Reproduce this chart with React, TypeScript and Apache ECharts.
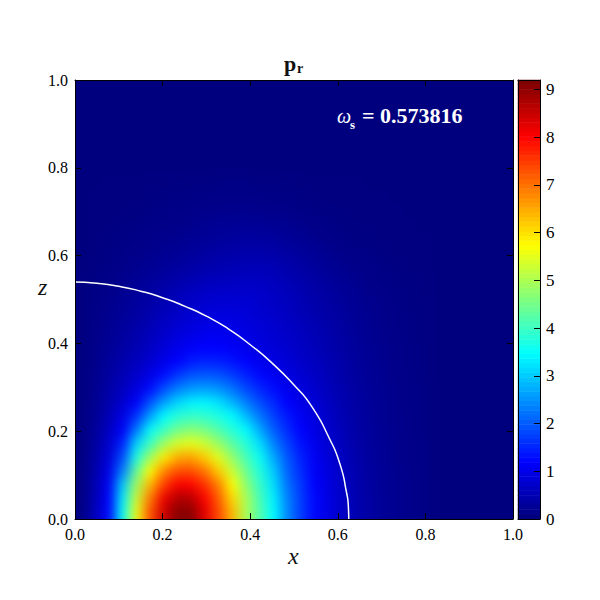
import React, { useEffect, useRef } from "react";
import * as echarts from "echarts";

const FONT = '"Liberation Serif", serif';
const CELLS = 32;
const MIRRORED_ROWS = 3;
const cellLabels = Array.from({ length: CELLS }, (_, i) => String(i));
const rowLabels = Array.from({ length: CELLS + MIRRORED_ROWS }, (_, i) => String(i));

// p_r: one row per z cell (bottom to top), one value per x cell (left to right).
const heatRows: number[][] = [
  [.04,.55,1.2,3.5,5.6,7.3,8.5,9.1,9.1,8.3,7.4,6.4,5.0,4.2,3.45,2.4,1.7,1.2,.9,.65,.45,.32,.22,.15,.1,.07],
  [.04,.5,1.15,3.3,5.3,6.95,8.2,8.75,8.7,8.05,7.2,6.1,5.0,4.1,3.35,2.35,1.7,1.2,.9,.65,.45,.32,.22,.15,.1,.07],
  [.04,.45,1.05,3.0,4.9,6.4,7.5,8.1,8.05,7.6,6.9,5.75,4.75,3.95,3.2,2.2,1.65,1.15,.88,.65,.45,.31,.21,.15,.1,.07],
  [.03,.4,.95,2.3,4.35,5.75,6.85,7.35,7.35,7.0,6.2,5.3,4.45,3.75,3.0,2.05,1.55,1.1,.85,.62,.43,.3,.21,.14,.1,.06],
  [.03,.35,.8,1.85,3.7,4.9,5.9,6.5,6.6,6.2,5.5,4.8,4.1,3.55,2.7,1.95,1.45,1.05,.8,.58,.41,.28,.2,.13,.09,.06],
  [.02,.3,.7,1.45,3.1,4.0,4.9,5.4,5.55,5.3,4.85,4.3,3.8,3.2,2.35,1.75,1.3,1.0,.75,.55,.39,.27,.19,.13,.09,.06],
  [.02,.25,.6,1.1,2.25,3.5,4.0,4.5,4.7,4.55,4.2,3.8,3.45,2.7,2.0,1.55,1.15,.92,.7,.52,.37,.26,.18,.12,.08,.05],
  [.02,.2,.5,.9,1.6,2.6,3.45,3.8,3.95,3.9,3.7,3.45,2.85,2.25,1.75,1.35,1.05,.85,.65,.48,.35,.25,.17,.12,.08,.05],
  [.02,.18,.42,.72,1.1,1.9,2.6,3.1,3.35,3.4,3.2,2.8,2.3,1.85,1.5,1.15,.95,.78,.6,.45,.33,.24,.17,.11,.07,.05],
  [.02,.15,.36,.58,.85,1.25,1.85,2.3,2.55,2.6,2.5,2.2,1.8,1.5,1.25,1.0,.85,.7,.55,.42,.31,.22,.16,.11,.07,.05],
  [.02,.13,.3,.48,.68,.92,1.25,1.65,1.9,1.95,1.9,1.7,1.45,1.2,1.05,.88,.75,.64,.5,.39,.29,.21,.15,.1,.07,.04],
  [.02,.12,.26,.4,.56,.74,.95,1.15,1.38,1.45,1.42,1.3,1.15,1.0,.9,.78,.68,.58,.47,.37,.27,.2,.14,.1,.06,.04],
  [.02,.11,.22,.33,.47,.63,.8,.97,1.1,1.15,1.15,1.08,.98,.88,.8,.72,.62,.53,.43,.34,.25,.18,.13,.09,.06,.04],
  [.01,.09,.18,.28,.4,.53,.68,.82,.92,1.0,1.02,.98,.9,.82,.75,.66,.58,.49,.4,.31,.23,.17,.12,.08,.05,.03],
  [.01,.08,.15,.24,.34,.45,.58,.7,.8,.86,.9,.88,.83,.76,.7,.62,.53,.45,.37,.29,.21,.15,.11,.07,.05,.03],
  [.01,.07,.13,.2,.29,.38,.49,.6,.69,.75,.79,.8,.77,.71,.65,.58,.49,.41,.33,.26,.19,.14,.1,.07,.04,.03],
  [.01,.06,.11,.17,.24,.32,.41,.5,.59,.65,.68,.7,.7,.68,.62,.55,.46,.38,.3,.23,.17,.12,.09,.06,.04,.02],
  [.01,.05,.08,.13,.18,.24,.3,.38,.45,.51,.54,.57,.59,.58,.55,.48,.4,.32,.25,.18,.14,.09,.06,.05,.03,.02],
  [.01,.03,.06,.09,.14,.18,.23,.28,.34,.39,.43,.47,.48,.49,.47,.4,.32,.26,.2,.14,.1,.07,.05,.03,.02,.01],
  [0,.02,.05,.07,.1,.13,.16,.2,.25,.3,.34,.37,.39,.39,.37,.31,.25,.2,.14,.1,.07,.05,.03,.02,.02,.01],
  [0,.01,.04,.05,.07,.09,.12,.14,.18,.22,.25,.27,.29,.29,.27,.22,.18,.13,.09,.06,.04,.03,.02,.01,.01,.01],
  [0,.01,.02,.04,.05,.07,.08,.1,.13,.16,.19,.2,.21,.2,.18,.15,.12,.08,.06,.04,.03,.02,.01,.01,.01,0],
  [0,.01,.01,.02,.03,.05,.06,.07,.09,.11,.12,.13,.13,.12,.11,.09,.07,.05,.03,.03,.01,.01,.01,.01,0,0],
  [0,.01,.01,.01,.02,.03,.04,.05,.05,.07,.07,.08,.08,.07,.06,.05,.04,.02,.02,.01,.01,.01,.01,0,0,0],
  [0,0,.01,.01,.01,.02,.02,.03,.04,.04,.05,.05,.05,.04,.04,.03,.02,.01,.01,.01,.01,0,0,0,0,0],
];

// White boundary curve, [x, z].
const boundary: [number, number][] = [
  [0,.54],[.05,.537],[.1,.53],[.15,.519],[.2,.504],[.25,.485],[.3,.462],[.35,.433],[.4,.397],[.45,.355],
  [.5,.305],[.54,.257],[.58,.185],[.605,.125],[.62,.06],[.624,.03],[.625,0],
];

// Colour-bar levels.
const barLevels = [
  0,.1,.2,.3,.4,.5,.6,.7,.8,.9,1,1.1,1.2,1.3,1.4,1.5,1.6,1.7,1.8,1.9,2,2.1,2.2,2.3,2.4,2.5,2.6,2.7,2.8,2.9,3,
  3.1,3.2,3.3,3.4,3.5,3.6,3.7,3.8,3.9,4,4.1,4.2,4.3,4.4,4.5,4.6,4.7,4.8,4.9,5,5.1,5.2,5.3,5.4,5.5,5.6,5.7,5.8,5.9,6,
  6.1,6.2,6.3,6.4,6.5,6.6,6.7,6.8,6.9,7,7.1,7.2,7.3,7.4,7.5,7.6,7.7,7.8,7.9,8,8.1,8.2,8.3,8.4,8.5,8.6,8.7,8.8,8.9,9,9.1,9.2,
];

const jet = ["#00007f","#0000ff","#007fff","#00ffff","#7fff7f","#ffff00","#ff7f00","#ff0000","#7f0000"];
const VMAX = 9.2;

const hidden = { show: false };
const ink = { lineStyle: { color: "#000", width: 1 } };

function frameAxis(gridIndex: number, position: string, extra: any = {}) {
  return {
    type: "value", gridIndex, position, min: 0, max: 1, interval: 0.2, z: 5,
    axisLine: { show: true, onZero: false, ...ink },
    axisTick: { show: true, inside: true, length: 6, ...ink },
    axisLabel: { show: false },
    splitLine: hidden,
    ...extra,
  };
}

const tickLabel = {
  show: true, color: "#000", fontFamily: FONT, fontSize: 16, margin: 7,
  formatter: (v: number) => v.toFixed(1),
};

export default function App() {
  const heatRef = useRef<HTMLDivElement>(null);
  const mainRef = useRef<HTMLDivElement>(null);
  useEffect(() => {
    // Field layer: the reference is a smooth image, so this layer is softened by a CSS blur.
    // The rows below z = 0 repeat the first rows so the blur does not darken the lower edge.
    const heatChart = echarts.init(heatRef.current!, null, { renderer: "svg" });
    const heat: number[][] = [];
    heatRows.forEach((row, j) => row.forEach((v, i) => heat.push([i, j + MIRRORED_ROWS, v])));
    heatRows.slice(0, MIRRORED_ROWS).forEach((row, j) =>
      row.forEach((v, i) => heat.push([i, MIRRORED_ROWS - 1 - j, v])));
    heatChart.setOption({
      animation: false,
      backgroundColor: "#00007f",
      grid: { left: 40, top: 40, width: 438, height: (439 * (CELLS + MIRRORED_ROWS)) / CELLS, show: false },
      visualMap: { show: false, min: 0, max: VMAX, dimension: 2, inRange: { color: jet } },
      xAxis: { type: "category", data: cellLabels, show: false },
      yAxis: { type: "category", data: rowLabels, show: false },
      series: [{ type: "heatmap", data: heat, progressive: 0, emphasis: { disabled: true } }],
    });

    const chart = echarts.init(mainRef.current!, null, { renderer: "svg" });
    chart.setOption({
      animation: false,
      backgroundColor: "transparent",
      grid: [
        { left: 75, top: 80, width: 438, height: 439, show: false },
        { left: 518, top: 80, width: 22, height: 439, show: false },
      ],
      visualMap: { show: false, min: 0, max: VMAX, dimension: 2, seriesIndex: [0], inRange: { color: jet } },
      xAxis: [
        frameAxis(0, "bottom", { axisLabel: tickLabel }),
        frameAxis(0, "top"),
        { type: "category", gridIndex: 1, data: ["bar"], show: false },
        frameAxis(1, "bottom", { axisTick: { show: false } }),
        frameAxis(1, "top", { axisTick: { show: false } }),
      ],
      yAxis: [
        frameAxis(0, "left", { axisLabel: tickLabel }),
        frameAxis(0, "right"),
        { type: "category", gridIndex: 1, data: barLevels.map(String), show: false },
        frameAxis(1, "right", {
          max: VMAX, interval: 1,
          axisLabel: { show: true, color: "#000", fontFamily: FONT, fontSize: 17, margin: 6, showMaxLabel: false },
        }),
        frameAxis(1, "left", { axisTick: { show: false } }),
      ],
      series: [
        { type: "heatmap", xAxisIndex: 2, yAxisIndex: 2, data: barLevels.map((v, j) => [0, j, v]), progressive: 0, emphasis: { disabled: true } },
        {
          type: "line", xAxisIndex: 0, yAxisIndex: 0, data: boundary, symbol: "none", smooth: 0.6, z: 4,
          lineStyle: { color: "#fff", width: 1.5 }, silent: true,
        },
      ],
      graphic: [
        { type: "text", x: 284, y: 52, z: 10, style: { text: "p", font: `bold 22px ${FONT}`, fill: "#111" } },
        { type: "text", x: 297, y: 61, z: 10, style: { text: "r", font: `bold 14px ${FONT}`, fill: "#111" } },
        { type: "text", x: 337, y: 106, z: 10, style: { text: "ω", font: `italic 20px ${FONT}`, fill: "#fff" } },
        { type: "text", x: 350, y: 118, z: 10, style: { text: "s", font: `bold 13px ${FONT}`, fill: "#fff" } },
        { type: "text", x: 362, y: 104, z: 10, style: { text: "= 0.573816", font: `bold 22px ${FONT}`, fill: "#fff" } },
        { type: "text", x: 288, y: 544, z: 10, style: { text: "x", font: `italic 24px ${FONT}`, fill: "#111" } },
        { type: "text", x: 38, y: 275, z: 10, style: { text: "z", font: `italic 24px ${FONT}`, fill: "#111" } },
      ],
    });
    return () => {
      chart.dispose();
      heatChart.dispose();
    };
  }, []);
  return (
    <div style={{ position: "fixed", left: 0, top: 0, width: 600, height: 600, background: "#fff" }}>
      <div style={{ position: "absolute", left: 75, top: 80, width: 438, height: 439, overflow: "hidden", background: "#00007f" }}>
        <div ref={heatRef} style={{ position: "absolute", left: -40, top: -40, width: 518, height: 560, filter: "blur(6px)" }} />
      </div>
      <div ref={mainRef} style={{ position: "absolute", left: 0, top: 0, width: 600, height: 600 }} />
    </div>
  );
}
